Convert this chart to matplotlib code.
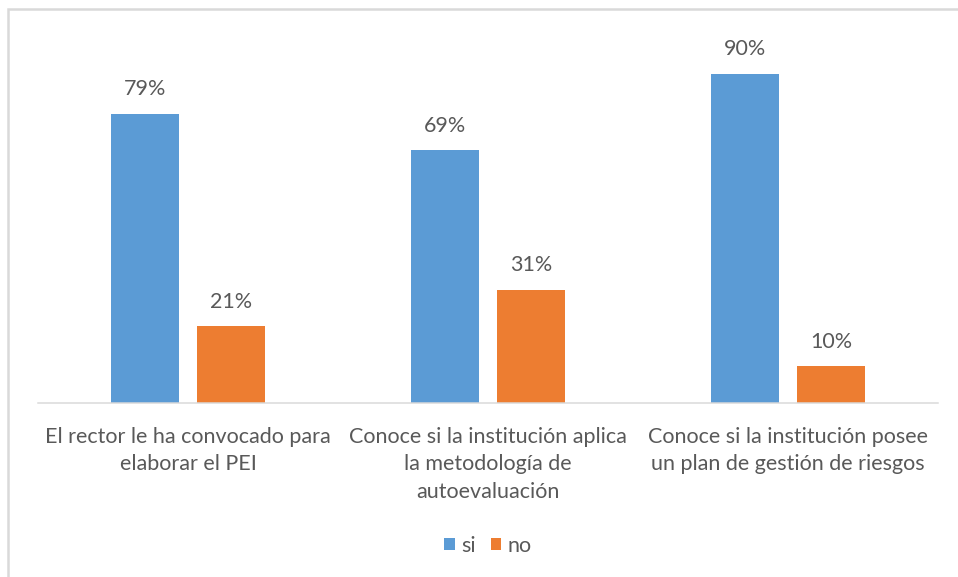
import numpy as np
import matplotlib.pyplot as plt
from matplotlib.patches import Rectangle

# survey answers, percent
categories = [
    "El rector le ha convocado para\nelaborar el PEI",
    "Conoce si la institución aplica\nla metodología de\nautoevaluación",
    "Conoce si la institución posee\nun plan de gestión de riesgos",
]
si = [79, 69, 90]
no = [21, 31, 10]

BLUE = "#5B9BD5"
ORANGE = "#ED7D31"
GREY = "#595959"

plt.rcParams['font.family'] = ['Lato', 'DejaVu Sans']

DPI = 72
W, H = 958, 577
FS = 21.5
fig = plt.figure(figsize=(W / DPI, H / DPI), dpi=DPI)
fig.patch.set_facecolor("white")

# chart frame (left and top edges visible)
fig.patches.append(Rectangle((7.5 / W, -0.1), 1.2, (H - 8.5) / H + 0.1,
                             transform=fig.transFigure, fill=False,
                             edgecolor="#D9D9D9", linewidth=2.5))

ax = fig.add_axes([38 / W, (H - 403) / H, 900 / W, 366 / H])

x = np.arange(len(categories))
bw = 0.227
off = 0.144
b1 = ax.bar(x - off, si, bw, color=BLUE, label="si")
b2 = ax.bar(x + off, no, bw, color=ORANGE, label="no")

for bars, vals in ((b1, si), (b2, no)):
    for rect, v in zip(bars, vals):
        ax.annotate(f"{v}%", (rect.get_x() + rect.get_width() / 2, v),
                    xytext=(0, 24.5), textcoords="offset points",
                    ha="center", va="center", fontsize=FS, color=GREY)

ax.set_xlim(-0.5, 2.5)
ax.set_ylim(0, 100)
ax.set_yticks([])
ax.set_xticks(x)
ax.set_xticklabels(categories, fontsize=FS, color=GREY, linespacing=1.46)
ax.tick_params(axis="x", length=0, pad=24)

for s in ("top", "right", "left"):
    ax.spines[s].set_visible(False)
ax.spines["bottom"].set_color("#D9D9D9")
ax.spines["bottom"].set_linewidth(1.5)

fig.legend(handles=[b1, b2], labels=["si", "no"], loc="center",
           bbox_to_anchor=(488 / W, 1 - 546 / H), ncol=2, frameon=False,
           fontsize=FS, labelcolor=GREY, handlelength=0.48, handleheight=0.48,
           handletextpad=0.3, columnspacing=0.7)

fig.savefig("out.png", dpi=DPI)
